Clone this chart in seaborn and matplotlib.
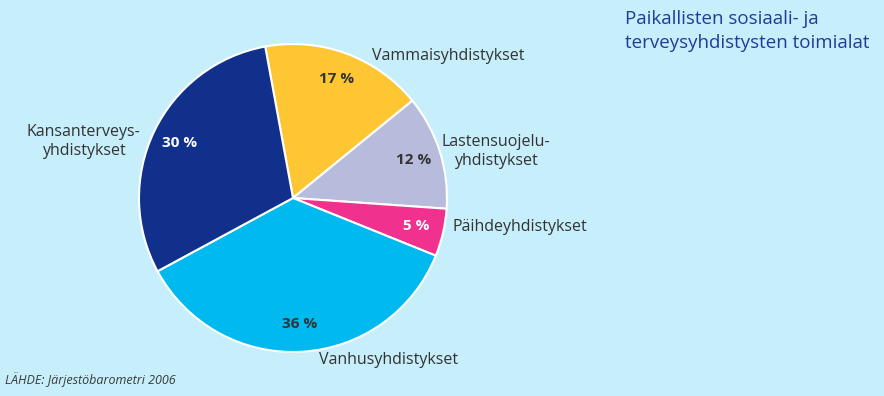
import numpy as np
import matplotlib
matplotlib.use("Agg")
import matplotlib.pyplot as plt
import seaborn as sns

# Paikallisten sosiaali- ja terveysyhdistysten toimialat (Järjestöbarometri 2006)
categories = ["Vammaisyhdistykset", "Lastensuojelu-\nyhdistykset", "Päihdeyhdistykset",
              "Vanhusyhdistykset", "Kansanterveys-\nyhdistykset"]
shares = [17, 12, 5, 36, 30]
colors = ["#ffc634", "#b8bcdc", "#f0318e", "#00b9ef", "#10308b"]
pct_colors = ["#333333", "#333333", "white", "#333333", "white"]

# label centres (pie radius units)
label_pos = [(1.01, 0.92), (1.32, 0.30), (1.47, -0.19), (0.62, -1.05), (-1.36, 0.37)]

sns.set_style("white")
plt.rcParams["font.family"] = ["Open Sans", "DejaVu Sans"]

bg = "#c6eefb"
fig = plt.figure(figsize=(8.84, 3.96), dpi=100, facecolor=bg)
ax = fig.add_axes([139 / 884, 44 / 396, 308 / 884, 308 / 396])
ax.set_facecolor(bg)

wedges, texts, autotexts = ax.pie(
    shares, colors=colors, startangle=100.4, counterclock=False,
    autopct=lambda p: f"{p:.0f} %", pctdistance=0.82,
    wedgeprops=dict(edgecolor="white", linewidth=1.5),
    textprops=dict(fontsize=11, fontweight="bold"))

for t, c in zip(autotexts, pct_colors):
    t.set_color(c)

for name, (x, y) in zip(categories, label_pos):
    ax.text(x, y, name, ha="center", va="center", multialignment="center",
            fontsize=11.5, color="#333333", linespacing=1.25)

ax.set_xlim(-1, 1)
ax.set_ylim(-1, 1)
ax.axis("off")

fig.text(625 / 884, 1 - 10 / 396, "Paikallisten sosiaali- ja\nterveysyhdistysten toimialat",
         ha="left", va="top", fontsize=13.5, color="#1f3c9c", linespacing=1.45)
fig.text(5 / 884, 9 / 396, "LÄHDE: Järjestöbarometri 2006", ha="left", va="bottom",
         fontsize=9, style="italic", color="#3a3a3a")

fig.savefig("out.png", dpi=100, facecolor=bg)
